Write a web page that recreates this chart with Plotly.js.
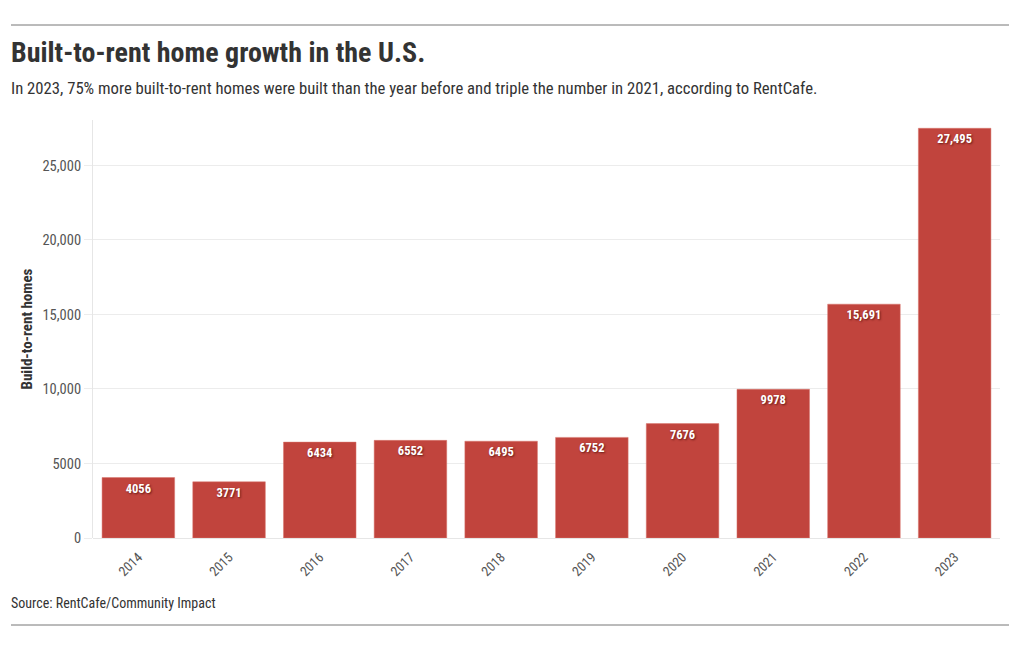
<!DOCTYPE html>
<html>
<head>
<meta charset="utf-8">
<script src="https://cdn.plot.ly/plotly-3.0.1.min.js"></script>
<style>
html,body{margin:0;padding:0;background:#fff;}
#chart{width:1020px;height:650px;}
.main-svg text{font-stretch:condensed !important;}
</style>
</head>
<body>
<div id="chart"></div>
<script>
const years = ['2014','2015','2016','2017','2018','2019','2020','2021','2022','2023'];
const homes = [4056, 3771, 6434, 6552, 6495, 6752, 7676, 9978, 15691, 27495];
const yTicks = [0, 5000, 10000, 15000, 20000, 25000];
const yTickText = ['0', '5000', '10,000', '15,000', '20,000', '25,000'];

const FONT = 'Roboto Condensed, Roboto, sans-serif';
const labels = homes.map(v => v >= 10000 ? v.toLocaleString('en-US') : String(v));

const trace = {
  type: 'bar',
  x: years,
  y: homes,
  text: labels,
  textposition: 'inside',
  insidetextanchor: 'end',
  textangle: 0,
  textfont: {family: FONT, size: 12.5, color: '#ffffff', weight: 700, shadow: '1px 1px 2px rgba(90,20,15,0.85)'},
  marker: {color: '#c1443d', line: {color: '#d9766f', width: 0.5}},
  hoverinfo: 'x+y',
  cliponaxis: false
};

const plotW = 1020 - 93 - 20, plotH = 650 - 120 - 112;
const px = x => (x - 93) / plotW;
const py = y => (650 - 112 - y) / plotH;

const layout = {
  width: 1020, height: 650,
  paper_bgcolor: '#ffffff', plot_bgcolor: '#ffffff',
  font: {family: FONT, color: '#444'},
  margin: {l: 93, r: 20, t: 120, b: 112},
  bargap: 0.2,
  showlegend: false,
  xaxis: {
    type: 'category',
    tickangle: -45,
    tickfont: {family: FONT, size: 13.5, color: '#555'},
    showgrid: false,
    ticks: 'outside', ticklen: 5, tickcolor: 'rgba(0,0,0,0)',
    showline: false,
    fixedrange: true
  },
  yaxis: {
    range: [0, 28050],
    tickvals: yTicks,
    ticktext: yTickText,
    tickfont: {family: FONT, size: 14.5, color: '#555'},
    gridcolor: '#ececec',
    gridwidth: 1,
    zeroline: true, zerolinecolor: '#e6e6e6', zerolinewidth: 1,
    showline: true, linecolor: '#e6e6e6', linewidth: 1,
    ticks: 'outside', ticklen: 8, tickcolor: '#ececec',
    title: {text: 'Build-to-rent homes', font: {family: FONT, size: 15, color: '#333', weight: 700}, standoff: 6},
    fixedrange: true
  },
  annotations: [
    {xref: 'paper', yref: 'paper', x: px(9), y: py(52), xanchor: 'left', yanchor: 'middle', showarrow: false,
     text: '<b>Built-to-rent home growth in the U.S.</b>', font: {family: FONT, size: 28, color: '#333'}},
    {xref: 'paper', yref: 'paper', x: px(9), y: py(89), xanchor: 'left', yanchor: 'middle', showarrow: false,
     text: 'In 2023, 75% more built-to-rent homes were built than the year before and triple the number in 2021, according to RentCafe.',
     font: {family: FONT, size: 16.7, color: '#333'}},
    {xref: 'paper', yref: 'paper', x: px(9), y: py(603), xanchor: 'left', yanchor: 'middle', showarrow: false,
     text: 'Source: RentCafe/Community Impact', font: {family: FONT, size: 14, color: '#333'}}
  ],
  shapes: [
    {type: 'line', xref: 'paper', yref: 'paper', x0: px(11), x1: px(1009), y0: py(25), y1: py(25), line: {color: '#777', width: 1}},
    {type: 'line', xref: 'paper', yref: 'paper', x0: px(11), x1: px(1009), y0: py(625), y1: py(625), line: {color: '#777', width: 1}}
  ]
};

Plotly.newPlot('chart', [trace], layout, {displayModeBar: false, staticPlot: true});
</script>
</body>
</html>
